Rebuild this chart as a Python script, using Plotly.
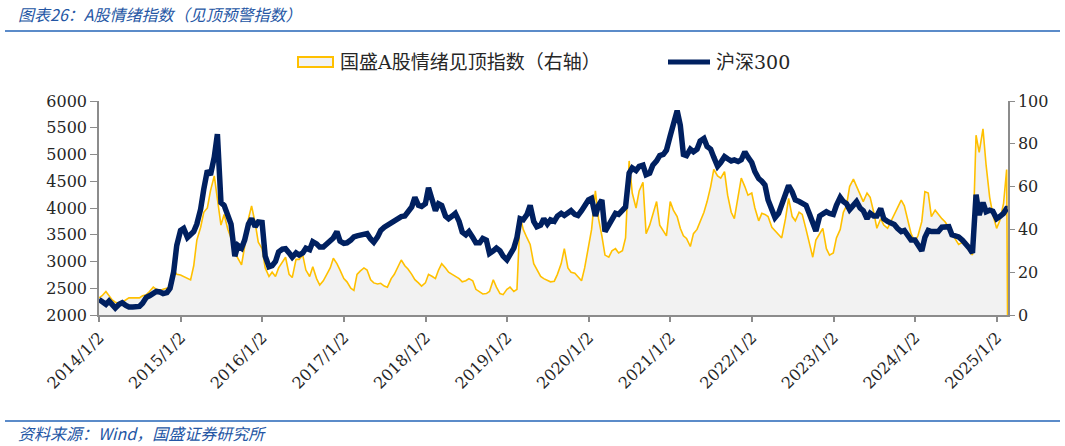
import pandas as pd
import plotly.graph_objects as go

# semi-monthly samples (1st and 15th), plus the last day shown
dates = list(pd.date_range("2014-01-01", "2025-02-15", freq="SMS").strftime("%Y-%m-%d")) + ["2025-02-19"]

# 沪深300 (left axis)
hs300_2014 = [2290, 2240, 2200, 2260, 2180, 2130, 2200, 2230, 2180, 2150, 2150, 2160,
              2160, 2220, 2330, 2360, 2400, 2440, 2430, 2400, 2420, 2500, 2800, 3300]
hs300_2015 = [3580, 3620, 3450, 3520, 3560, 3700, 3980, 4350, 4700, 4620, 4950, 5380,
              4100, 4050, 3850, 3700, 3100, 3300, 3250, 3400, 3700, 3800, 3650, 3740]
hs300_2016 = [3730, 3100, 2900, 2920, 3000, 3180, 3230, 3240, 3160, 3080, 3160, 3120,
              3160, 3250, 3220, 3370, 3330, 3270, 3270, 3320, 3380, 3440, 3560, 3380]
hs300_2017 = [3340, 3350, 3400, 3460, 3480, 3490, 3500, 3520, 3420, 3360, 3460, 3580,
              3640, 3680, 3720, 3760, 3820, 3840, 3850, 3920, 4020, 4200, 4050, 4030]
hs300_2018 = [4080, 4380, 4150, 3950, 4080, 4050, 3850, 3800, 3850, 3900, 3750, 3550,
              3500, 3560, 3450, 3350, 3350, 3430, 3400, 3150, 3200, 3250, 3200, 3100]
hs300_2019 = [3030, 3150, 3250, 3450, 3800, 3780, 3880, 4050, 3750, 3650, 3680, 3800,
              3700, 3780, 3750, 3850, 3900, 3860, 3920, 3950, 3880, 3860, 3950, 4060]
hs300_2020 = [4150, 4180, 3850, 4050, 4150, 3560, 3680, 3780, 3900, 3880, 3950, 4020,
              4650, 4750, 4700, 4780, 4800, 4620, 4650, 4800, 4880, 4980, 5000, 5080]
hs300_2021 = [5350, 5600, 5820, 5550, 5000, 4980, 5100, 5050, 5100, 5250, 5300, 5150,
              5100, 4950, 4780, 4850, 4960, 4920, 4880, 4900, 4870, 4900, 5050, 4950]
hs300_2022 = [4850, 4680, 4550, 4500, 4430, 4150, 4000, 3820, 3900, 4050, 4200, 4420,
              4300, 4150, 4120, 4080, 4050, 3900, 3750, 3570, 3850, 3880, 3930, 3900]
hs300_2023 = [3880, 4050, 4200, 4120, 4080, 3970, 4050, 4120, 4000, 3950, 3800, 3900,
              3850, 3850, 3990, 3800, 3750, 3720, 3690, 3620, 3560, 3580, 3480, 3400]
hs300_2024 = [3400, 3300, 3200, 3450, 3580, 3560, 3560, 3560, 3640, 3650, 3650, 3500,
              3470, 3460, 3400, 3340, 3250, 3160, 4250, 3870, 4100, 3930, 3960, 3940]
hs300_2025 = [3800, 3840, 3900, 3990, 3990]

# 国盛A股情绪见顶指数 (right axis)
senti_2014 = [8, 9, 11, 9, 7, 6, 5.5, 6, 7, 8, 8, 8,
              8, 9, 9.5, 11, 13, 12, 11.5, 12, 12.5, 13, 21, 19]
senti_2015 = [18.7, 18, 17, 16.4, 23, 35, 41, 48, 50, 58, 65, 53,
              42, 47, 40, 36, 29, 26.5, 23.4, 32, 45, 51, 43, 34]
senti_2016 = [31, 22, 18, 20, 18, 22, 25, 27, 19, 17.5, 26, 26,
              28, 21, 18, 22.5, 17, 14, 16, 18.5, 22, 26.5, 24, 21]
senti_2017 = [17, 15.5, 12.5, 11.5, 19, 20.5, 22, 21, 16.5, 15, 14.5, 14.8,
              13.5, 13, 17, 19, 23, 25.7, 23, 21.5, 19, 16.5, 15, 13.5]
senti_2018 = [15, 19, 18, 17, 21, 24, 22, 20, 19, 18, 17, 15.5,
              16, 17, 16, 12, 11, 9.8, 10, 11, 16.5, 13, 10, 9.5]
senti_2019 = [12, 13, 11, 12, 46, 40, 36, 33, 24, 21, 18, 17,
              16, 15.5, 15.8, 19, 24, 31, 22, 20, 19.5, 18, 16, 22]
senti_2020 = [33, 40, 58, 45, 37, 28, 27, 30, 31, 29, 30, 36,
              72, 57, 50, 58, 62, 38, 42, 47, 53, 42, 39, 37]
senti_2021 = [53, 49, 46, 40.5, 37, 35.8, 32, 38, 40, 43.6, 48, 53,
              60, 68, 65, 64, 67, 56, 48, 45, 55, 64, 60, 56]
senti_2022 = [57, 50, 44, 47.5, 47, 46, 41, 39.5, 38, 36, 45, 54.5,
              46, 44, 48, 47, 40, 34, 27, 35, 38, 40.5, 31, 28]
senti_2023 = [29, 36, 40, 48, 51, 60, 63.5, 60, 56, 53, 57, 55,
              48, 40.5, 45, 42, 40.5, 43.6, 46.7, 50, 53.7, 51, 44, 38]
senti_2024 = [34.3, 37, 43.6, 57.6, 57, 46, 49, 47, 45, 43.6, 41, 38,
              35, 33, 34, 33, 30, 28, 84, 76, 87, 70, 55, 47]
senti_2025 = [40.5, 44, 52, 68, 0]

years = list(range(2014, 2026))
tick_vals = [f"{y}-01-02" for y in years]
tick_text = [f"{y}/1/2" for y in years]

senti_name = "国盛A股情绪见顶指数（右轴）"
hs300_name = "沪深300"

hs300 = (hs300_2014 + hs300_2015 + hs300_2016 + hs300_2017 + hs300_2018 + hs300_2019
         + hs300_2020 + hs300_2021 + hs300_2022 + hs300_2023 + hs300_2024 + hs300_2025)
senti = (senti_2014 + senti_2015 + senti_2016 + senti_2017 + senti_2018 + senti_2019
         + senti_2020 + senti_2021 + senti_2022 + senti_2023 + senti_2024 + senti_2025)
assert len(hs300) == len(dates) == len(senti)

SERIF = "DejaVu Serif, Noto Sans CJK SC"
CJK = "Noto Sans CJK SC"
BLUE = "#2456A4"
AXIS = "#8C8C8C"
TEXT = "#262626"
YELLOW = "#FFC000"
NAVY = "#002060"
FILL = "#F2F2F2"

fig = go.Figure()

# sentiment index sits on the base y axis (right side) so the HS300 overlay draws above it
fig.add_trace(go.Scatter(
    x=dates, y=senti, yaxis="y", name=senti_name,
    mode="lines", line=dict(color=YELLOW, width=1.6),
    fill="tozeroy", fillcolor=FILL,
))
fig.add_trace(go.Scatter(
    x=dates, y=hs300, yaxis="y2", name=hs300_name,
    mode="lines", line=dict(color=NAVY, width=5.5),
))


def px_x(px):
    # window pixel -> paper x (plot spans 99..1008)
    return (px - 99) / 909


def px_y(py):
    # window pixel -> paper y (plot spans 101..315)
    return (315 - py) / 214


tick_font = dict(family=SERIF, size=16, color=TEXT)

fig.update_layout(
    width=1065, height=446,
    margin=dict(l=99, r=57, t=101, b=131),
    paper_bgcolor="white", plot_bgcolor="white",
    showlegend=False,
    xaxis=dict(
        type="date", range=["2014-01-01", "2025-02-21"],
        tickvals=tick_vals, ticktext=tick_text, tickangle=-45,
        showgrid=False, showline=True, linecolor=AXIS, linewidth=2,
        ticks="outside", ticklen=5, tickcolor=AXIS, tickwidth=1.5,
        tickfont=tick_font,
    ),
    yaxis=dict(
        range=[0, 100], dtick=20, side="right",
        showgrid=False, zeroline=False,
        showline=True, linecolor=AXIS, linewidth=1.5,
        ticks="outside", ticklen=5, tickcolor=AXIS,
        tickfont=tick_font,
    ),
    yaxis2=dict(
        range=[2000, 6000], dtick=500, side="left", overlaying="y",
        showgrid=False, zeroline=False,
        showline=True, linecolor=AXIS, linewidth=1.5,
        ticks="outside", ticklen=7, tickcolor=AXIS,
        tickfont=tick_font,
    ),
    shapes=[
        # header / footer rules
        dict(type="line", xref="paper", yref="paper", x0=px_x(5), x1=px_x(1060),
             y0=px_y(31), y1=px_y(31), line=dict(color="#5B8BC9", width=2)),
        dict(type="line", xref="paper", yref="paper", x0=px_x(5), x1=px_x(1060),
             y0=px_y(421), y1=px_y(421), line=dict(color="#5B8BC9", width=2)),
        # legend keys
        dict(type="rect", xref="paper", yref="paper", x0=px_x(298), x1=px_x(333),
             y0=px_y(67), y1=px_y(57), line=dict(color=YELLOW, width=2), fillcolor=FILL),
        dict(type="line", xref="paper", yref="paper", x0=px_x(668), x1=px_x(710),
             y0=px_y(62), y1=px_y(62), line=dict(color=NAVY, width=5)),
    ],
    annotations=[
        dict(text="<i>图表26：A股情绪指数（见顶预警指数）</i>", xref="paper", yref="paper",
             x=px_x(16), y=px_y(14), xanchor="left", yanchor="middle", showarrow=False,
             font=dict(family=CJK, size=16, color=BLUE)),
        dict(text="<i>资料来源：Wind，国盛证券研究所</i>", xref="paper", yref="paper",
             x=px_x(16), y=px_y(433), xanchor="left", yanchor="middle", showarrow=False,
             font=dict(family=CJK, size=16, color=BLUE)),
        dict(text=senti_name, xref="paper", yref="paper",
             x=px_x(338), y=px_y(62), xanchor="left", yanchor="middle", showarrow=False,
             font=dict(family=SERIF, size=19, color=TEXT)),
        dict(text=hs300_name, xref="paper", yref="paper",
             x=px_x(714), y=px_y(62), xanchor="left", yanchor="middle", showarrow=False,
             font=dict(family=SERIF, size=19, color=TEXT)),
    ],
)

# page body has a default 8px margin; drop it so the figure sits at the window corner
fig.write_html("out.html", config={"displayModeBar": False},
               post_script="document.body.style.margin='0';")
